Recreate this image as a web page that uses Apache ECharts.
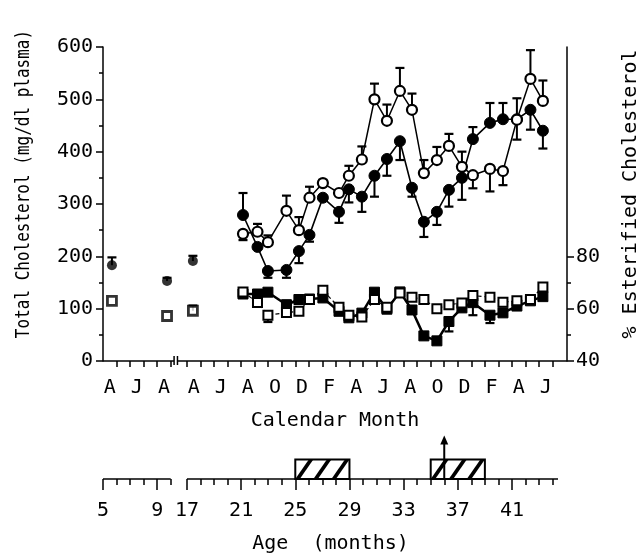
<!DOCTYPE html>
<html><head><meta charset="utf-8">
<script src="https://cdn.jsdelivr.net/npm/echarts@6/dist/echarts.min.js"></script>
<style>html,body{margin:0;padding:0;background:#fff}#c{width:643px;height:558px}</style>
</head><body><div id="c"></div>
<script>
// ---------------- data ----------------
// sampling time, in months since 1 April of the first year
const sampleMonths = [16.14,17.21,17.98,19.35,20.27,21.05,22.04,23.23,23.96,24.92,25.85,26.77,27.73,28.62,29.50,30.46,31.35,32.31,33.12,34.38,35.34,36.37,37.37,38.29];
// total cholesterol (mg/dl plasma), open and filled circles; signed error bar (+ up, - down)
const totalCholOpen      = [243,247,227,287,250,312,340,321,354,385,500,459,516,480,359,384,411,371,355,367,363,461,539,497];
const totalCholOpenErr   = [-12,15,13,29,25,21,6,0,19,25,30,31,44,31,25,25,23,29,-25,-43,-27,-38,55,39];
const totalCholFilled    = [279,218,172,174,210,241,312,285,328,314,354,386,420,331,266,285,327,350,424,455,462,462,480,440];
const totalCholFilledErr = [42,0,-13,-15,-23,-13,0,-21,-25,-29,-40,-32,-36,-17,-29,-25,-32,-42,23,38,31,40,-38,-34];
// % esterified cholesterol, open and filled squares
const esterOpen      = [66.4,62.4,57.5,58.5,59.0,63.5,67.0,60.5,57.5,56.8,63.5,60.5,66.0,64.4,63.5,60.0,61.5,62.2,65.0,64.4,62.5,63.0,63.5,68.3];
const esterOpenErr   = [0,0,-2.6,4.5,0,0,0,0,0,0,0,0,0,0,0,0,0,0,-7.5,0,0,0,0,0];
const esterFilled    = [65.6,65.6,66.3,61.5,63.5,63.7,64.1,59.0,56.5,58.3,66.3,59.8,66.4,59.5,49.6,47.7,55.1,60.3,62.3,57.5,58.4,61.0,63.0,64.6];
const esterFilledErr = [0,0,0,0,0,0,0,0,0,0,0,0,0,0,0,0,-3.8,0,0,-3,0,0,0,0];
// early (pooled) measurements
const earlyMonths      = [0.66,4.73,12.44];
const earlyTotalChol   = [183,153,191];
const earlyTotalCholErr= [15,6,10];
const earlyEster       = [63.0,57.2,59.2];
const earlyEsterErr    = [0,0,2];
// calendar axis
const monthLabels      = ['A','J','A','A','J','A','O','D','F','A','J','A','O','D','F','A','J'];
const monthLabelMonths = [0.5,2.5,4.5,12.5,14.5,16.5,18.5,20.5,22.5,24.5,26.5,28.5,30.5,32.5,34.5,36.5,38.5];
const monthTickMonths  = [1,2,3,4,5,12,13,14,15,16,17,18,19,20,21,22,23,24,25,26,27,28,29,30,31,32,33,34,35,36,37,38,39];
// right axis ticks
const esterLabels      = [40,60,80];
const esterMinorTicks  = [50,70];
// age axis
const ageLabels        = [5,9,17,21,25,29,33,37,41];
const ageMinorTicks    = [6,7,8,10,18,19,20,22,23,24,26,27,28,30,31,32,34,35,36,38,39,40,42,43,44];
const ageSegments      = [[5,10],[17,44.4]];
const treatmentPeriods = [[25,29],[35,39]];
const arrowAge         = 36;

// ---------------- axis break mappings ----------------
const calToAxis = t => t < 12 ? t : t - 5.8;       // Sep..Mar of year 1 omitted
const ageToAxis = a => a <= 10 ? a - 5 : a - 10.8; // ages 11..16 omitted

const FONT = 'DejaVu Sans Mono';
const pts = (xs, ys) => xs.map((t, i) => [calToAxis(t), ys[i]]);
const errPts = (xs, ys, es) => xs.map((t, i) => [calToAxis(t), ys[i], es[i]]);

function errRender(params, api) {
  const e = api.value(2);
  if (!e) return null;
  const p0 = api.coord([api.value(0), api.value(1)]);
  const p1 = api.coord([api.value(0), api.value(1) + e]);
  return {type: 'group', children: [
    {type: 'line', shape: {x1: p0[0], y1: p0[1], x2: p1[0], y2: p1[1]}, style: {stroke: '#000', lineWidth: 2}},
    {type: 'line', shape: {x1: p1[0] - 4.5, y1: p1[1], x2: p1[0] + 4.5, y2: p1[1]}, style: {stroke: '#000', lineWidth: 2.2}}
  ]};
}
const errSeries = (data, yIdx) => ({type: 'custom', xAxisIndex: 0, yAxisIndex: yIdx, data, renderItem: errRender, z: 1, silent: true, animation: false});

const monthLabelMap = {};
monthLabelMonths.forEach((t, i) => { monthLabelMap[calToAxis(t).toFixed(2)] = monthLabels[i]; });
const ageLabelMap = {};
ageLabels.forEach(a => { ageLabelMap[ageToAxis(a).toFixed(2)] = String(a); });

// calendar axis line segments with a break
const calSegEnd1 = calToAxis(5) + 0.25, calSegStart2 = calToAxis(5) + 0.5;
const calAxisSegments = [[0, calSegEnd1], [calSegStart2, 34.27]];

const chart = echarts.init(document.getElementById('c'), null, {renderer: 'canvas'});
const axisText = {fontFamily: FONT, fontSize: 20, color: '#000'};

const option = {
  animation: false,
  backgroundColor: '#fff',
  grid: [
    {left: 103, right: 76, top: 47, bottom: 197},
    {left: 103, width: 455, top: 459.5, bottom: 79}
  ],
  xAxis: [
    {gridIndex: 0, type: 'value', min: 0, max: 34.27, position: 'bottom',
     axisLine: {show: false}, splitLine: {show: false},
     axisTick: {show: true, customValues: monthTickMonths.map(calToAxis), length: 6, lineStyle: {color: '#000', width: 1.5}},
     axisLabel: {show: true, customValues: monthLabelMonths.map(calToAxis), margin: 17, ...axisText,
       formatter: v => monthLabelMap[v.toFixed(2)] || ''},
     name: 'Calendar Month', nameLocation: 'middle', nameGap: 50, nameTextStyle: {...axisText}},
    {gridIndex: 1, type: 'value', min: 0, max: 33.6, position: 'bottom',
     axisLine: {show: false}, splitLine: {show: false},
     axisTick: {show: true, customValues: ageLabels.map(ageToAxis), length: 11, lineStyle: {color: '#000', width: 1.5}},
     axisLabel: {show: true, customValues: ageLabels.map(ageToAxis), margin: 22, ...axisText,
       formatter: v => ageLabelMap[v.toFixed(2)] || ''},
     name: 'Age  (months)', nameLocation: 'middle', nameGap: 55, nameTextStyle: {...axisText}},
    {gridIndex: 1, type: 'value', min: 0, max: 33.6, position: 'bottom',
     axisLine: {show: false}, splitLine: {show: false},
     axisTick: {show: true, customValues: ageMinorTicks.map(ageToAxis), length: 6, lineStyle: {color: '#000', width: 1.5}},
     axisLabel: {show: false}}
  ],
  yAxis: [
    {gridIndex: 0, type: 'value', min: 0, max: 600, interval: 100, position: 'left',
     axisLine: {show: true, lineStyle: {color: '#000', width: 1.5}},
     axisTick: {show: true, length: 7, lineStyle: {color: '#000', width: 1.5}},
     minorTick: {show: true, splitNumber: 2, length: 4, lineStyle: {color: '#000', width: 1.5}},
     splitLine: {show: false},
     axisLabel: {margin: 10, ...axisText}},
    {gridIndex: 0, type: 'value', min: 40, max: 160, position: 'right',
     axisLine: {show: true, lineStyle: {color: '#000', width: 1.5}},
     axisTick: {show: true, customValues: esterLabels, length: 7, lineStyle: {color: '#000', width: 1.5}},
     splitLine: {show: false},
     axisLabel: {customValues: esterLabels, margin: 9, ...axisText}},
    {gridIndex: 0, type: 'value', min: 40, max: 160, position: 'right',
     axisLine: {show: false}, splitLine: {show: false},
     axisTick: {show: true, customValues: esterMinorTicks, length: 4, lineStyle: {color: '#000', width: 1.5}},
     axisLabel: {show: false}},
    {gridIndex: 1, type: 'value', min: 0, max: 1, show: false}
  ],
  graphic: [
    {type: 'text', x: 24, y: 184, rotation: Math.PI / 2, scaleX: 0.8,
     style: {text: 'Total Cholesterol (mg/dl plasma)', fontFamily: FONT, fontSize: 20, fill: '#000', textAlign: 'center', textVerticalAlign: 'middle'}},
    {type: 'text', x: 631, y: 194, rotation: Math.PI / 2,
     style: {text: '% Esterified Cholesterol', fontFamily: FONT, fontSize: 20, fill: '#000', textAlign: 'center', textVerticalAlign: 'middle'}}
  ],
  series: [
    // calendar axis line with break marks
    {type: 'custom', xAxisIndex: 0, yAxisIndex: 0, data: calAxisSegments, silent: true, z: 5,
     renderItem: (params, api) => {
       const a = api.coord([api.value(0), 0]), b = api.coord([api.value(1), 0]);
       const children = [{type: 'line', shape: {x1: a[0], y1: a[1], x2: b[0], y2: b[1]}, style: {stroke: '#000', lineWidth: 1.5}}];
       const bx = params.dataIndex === 0 ? b[0] : a[0];
       children.push({type: 'line', shape: {x1: bx, y1: a[1] - 5, x2: bx, y2: a[1] + 4}, style: {stroke: '#000', lineWidth: 1.5}});
       return {type: 'group', children};
     }},
    // age axis line segments
    {type: 'custom', xAxisIndex: 1, yAxisIndex: 3, data: ageSegments.map(s => [ageToAxis(s[0]), ageToAxis(s[1])]), silent: true,
     renderItem: (params, api) => {
       const a = api.coord([api.value(0), 0]), b = api.coord([api.value(1), 0]);
       return {type: 'line', shape: {x1: a[0], y1: a[1], x2: b[0], y2: b[1]}, style: {stroke: '#000', lineWidth: 1.5}};
     }},
    // treatment periods (hatched boxes)
    {type: 'custom', xAxisIndex: 1, yAxisIndex: 3, data: treatmentPeriods.map(p => [ageToAxis(p[0]), ageToAxis(p[1])]), silent: true, z: 3,
     renderItem: (params, api) => {
       const a = api.coord([api.value(0), 0]), b = api.coord([api.value(1), 1]);
       const x0 = a[0], x1 = b[0], yb = a[1], yt = b[1], w = x1 - x0;
       const children = [{type: 'rect', shape: {x: x0, y: yt, width: w, height: yb - yt}, style: {fill: '#fff', stroke: '#000', lineWidth: 2}}];
       const dx = w * 0.25, sw = 4.5;
       for (let k = 0; k < 3; k++) {
         const bx = x0 + k * w / 3;
         children.push({type: 'polygon', shape: {points: [[bx, yb], [bx + sw, yb], [bx + sw + dx, yt], [bx + dx, yt]]}, style: {fill: '#000'}});
       }
       return {type: 'group', children};
     }},
    // arrow
    {type: 'custom', xAxisIndex: 1, yAxisIndex: 3, data: [[ageToAxis(arrowAge), 0]], silent: true, z: 4,
     renderItem: (params, api) => {
       const p = api.coord([api.value(0), 0]), top = api.coord([api.value(0), 1]);
       const tip = top[1] - 24;
       return {type: 'group', children: [
         {type: 'line', shape: {x1: p[0], y1: p[1], x2: p[0], y2: tip + 6}, style: {stroke: '#000', lineWidth: 2}},
         {type: 'polygon', shape: {points: [[p[0], tip], [p[0] - 4, tip + 9], [p[0] + 4, tip + 9]]}, style: {fill: '#000'}}
       ]};
     }},
    // error bars
    errSeries(errPts(sampleMonths, totalCholOpen, totalCholOpenErr), 0),
    errSeries(errPts(sampleMonths, totalCholFilled, totalCholFilledErr), 0),
    errSeries(errPts(sampleMonths, esterOpen, esterOpenErr), 1),
    errSeries(errPts(sampleMonths, esterFilled, esterFilledErr), 1),
    errSeries(errPts(earlyMonths, earlyTotalChol, earlyTotalCholErr), 0),
    errSeries(errPts(earlyMonths, earlyEster, earlyEsterErr), 1),
    // squares (% esterified)
    {type: 'line', xAxisIndex: 0, yAxisIndex: 1, data: pts(sampleMonths, esterFilled), z: 3,
     symbol: 'rect', symbolSize: 10, showAllSymbol: true,
     itemStyle: {color: '#000', borderColor: '#000', borderWidth: 1},
     lineStyle: {color: '#000', width: 2.5}},
    {type: 'line', xAxisIndex: 0, yAxisIndex: 1, data: pts(sampleMonths, esterOpen), z: 4,
     symbol: 'rect', symbolSize: 9, showAllSymbol: true,
     itemStyle: {color: '#fff', borderColor: '#000', borderWidth: 2},
     lineStyle: {color: '#000', width: 1.2, type: [4, 3]}},
    // circles (total cholesterol)
    {type: 'line', xAxisIndex: 0, yAxisIndex: 0, data: pts(sampleMonths, totalCholFilled), z: 3,
     symbol: 'circle', symbolSize: 11, showAllSymbol: true,
     itemStyle: {color: '#000', borderColor: '#000', borderWidth: 1},
     lineStyle: {color: '#000', width: 1.6}},
    {type: 'line', xAxisIndex: 0, yAxisIndex: 0, data: pts(sampleMonths, totalCholOpen), z: 4,
     symbol: 'circle', symbolSize: 10, showAllSymbol: true,
     itemStyle: {color: '#fff', borderColor: '#000', borderWidth: 2.2},
     lineStyle: {color: '#000', width: 1.5}},
    // early pooled points
    {type: 'scatter', xAxisIndex: 0, yAxisIndex: 0, data: pts(earlyMonths, earlyTotalChol), z: 4,
     symbol: 'circle', symbolSize: 10, itemStyle: {color: '#000'}},
    {type: 'scatter', xAxisIndex: 0, yAxisIndex: 1, data: pts(earlyMonths, earlyEster), z: 4,
     symbol: 'rect', symbolSize: 9, itemStyle: {color: '#fff', borderColor: '#000', borderWidth: 2.8}}
  ]
};
chart.setOption(option);
</script></body></html>
